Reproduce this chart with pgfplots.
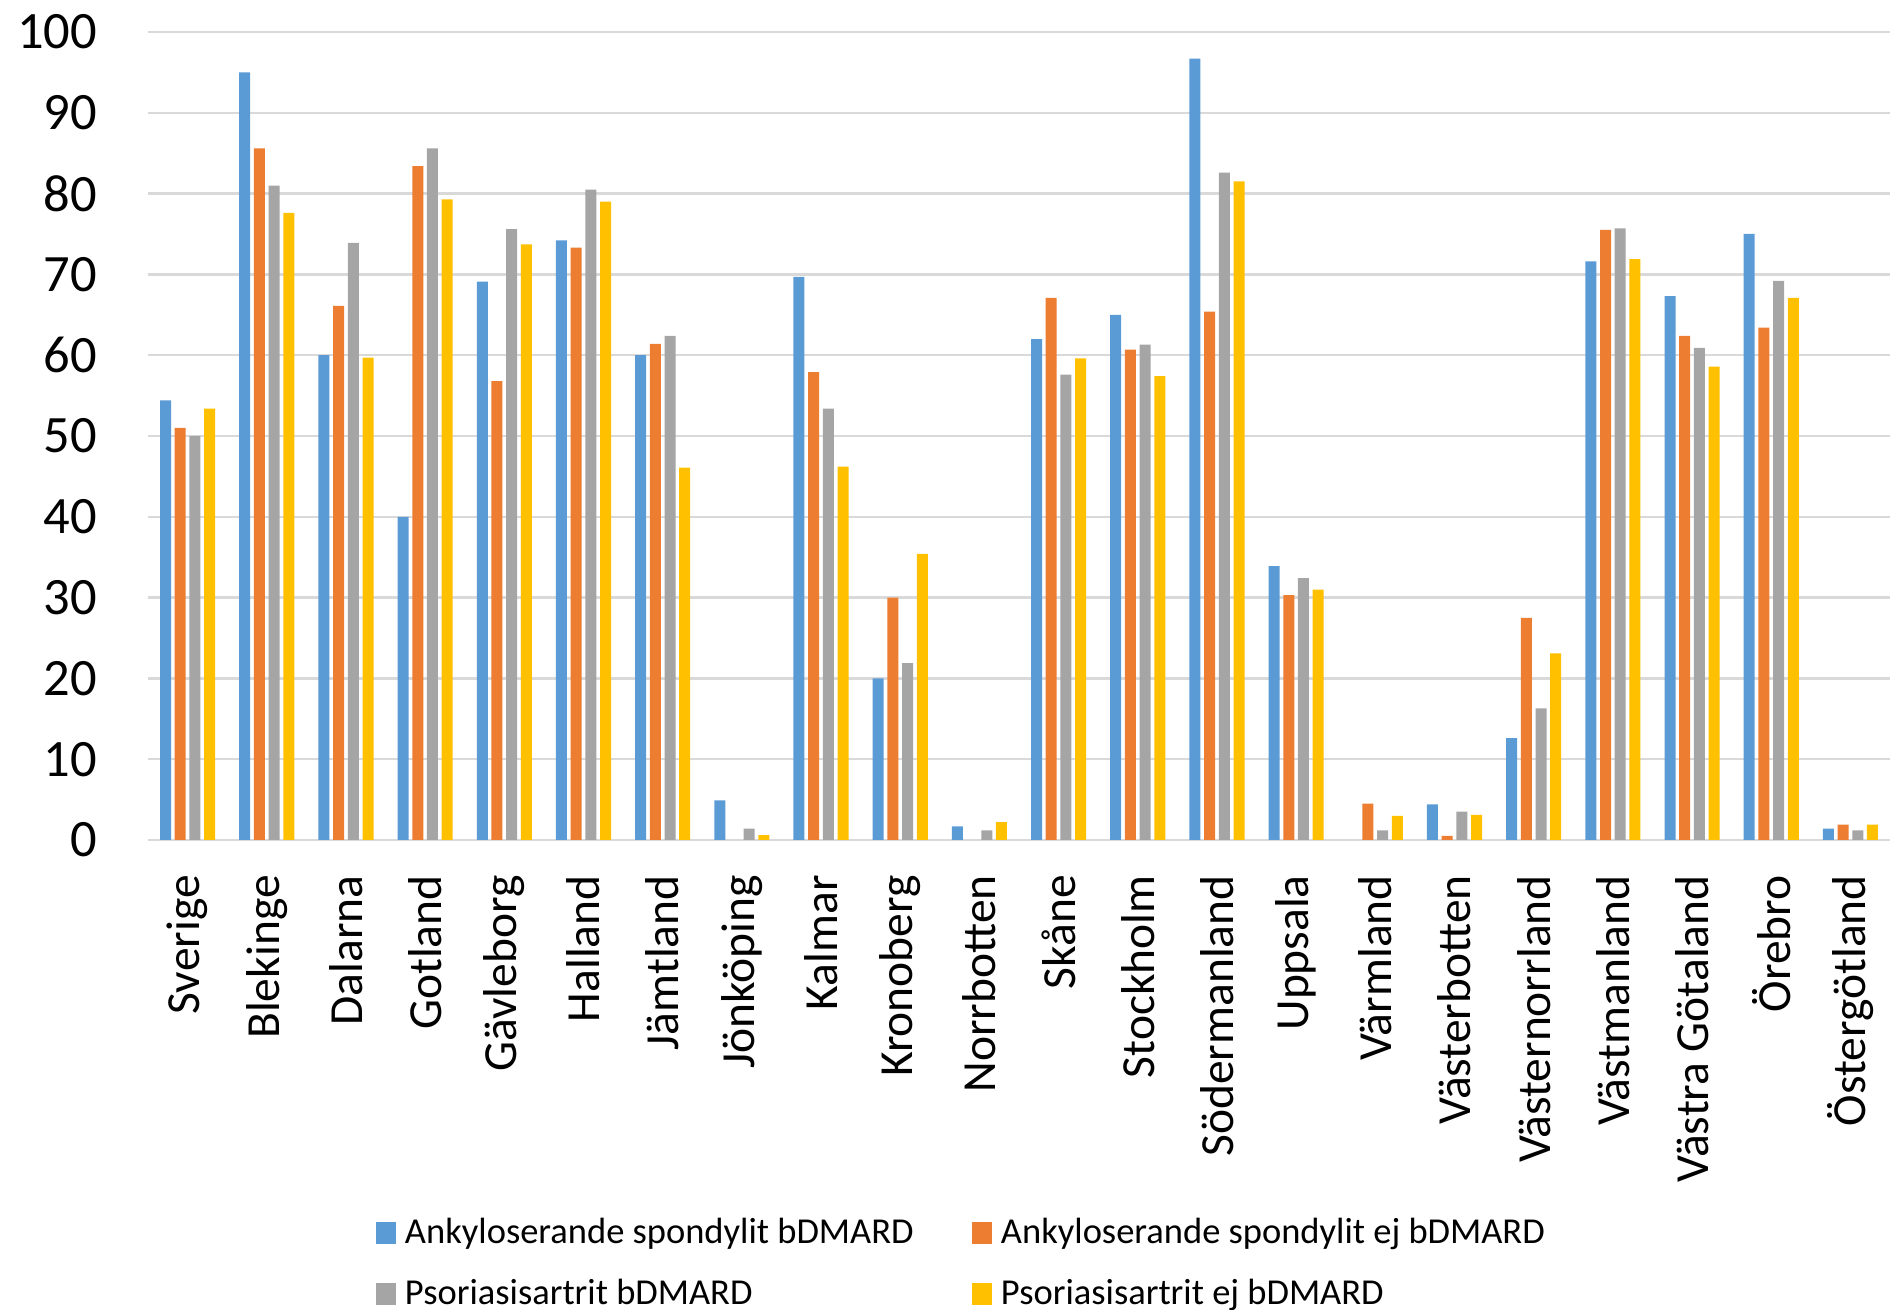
\documentclass[border=0pt]{standalone}
\usepackage{pgfplots}
\pgfplotsset{compat=1.18}
\usepackage{fontspec}
\setmainfont{Carlito}
\definecolor{cblue}{HTML}{5B9BD5}
\definecolor{corange}{HTML}{ED7D31}
\definecolor{cgray}{HTML}{A5A5A5}
\definecolor{cyellow}{HTML}{FFC000}
\definecolor{cgrid}{HTML}{D9D9D9}
\begin{document}
\begin{tikzpicture}
\begin{axis}[
  name=ax,
  scale only axis,
  width=348.4pt, height=161.6pt,
  xmin=-0.5, xmax=21.5, ymin=0, ymax=100,
  ybar=0.74pt, bar width=2.2pt,
  ytick={0,10,...,100},
  xtick={0,...,21},
  xticklabels={Sverige,Blekinge,Dalarna,Gotland,Gävleborg,Halland,Jämtland,Jönköping,Kalmar,Kronoberg,Norrbotten,Skåne,Stockholm,Södermanland,Uppsala,Värmland,Västerbotten,Västernorrland,Västmanland,Västra Götaland,Örebro,Östergötland},
  xticklabel style={rotate=90, anchor=east, inner sep=0pt, font=\fontsize{9.5}{11}\selectfont},
  xticklabel shift=2.6pt,
  yticklabel style={inner sep=0pt, font=\fontsize{10.5}{12}\selectfont},
  yticklabel shift=10pt,
  /pgf/number format/assume math mode=true,
  axis line style={draw=none},
  major tick style={draw=none},
  ymajorgrids, major grid style={draw=cgrid, line width=0.5pt},
  legend columns=2,
  legend cell align=left,
  legend style={draw=none, at={(axis description cs:0.1303,-0.4635)}, anchor=north west,
    inner sep=0pt, row sep=5.2pt, font=\fontsize{7.3}{9}\selectfont,
    nodes={inner sep=0pt, text height=5.5pt, text depth=1.5pt},
    /tikz/every odd column/.append style={column sep=1.8pt}},
  legend image code/.code={\fill[#1] (0pt,-2.2pt) rectangle (4pt,2.2pt);},
]
\addplot[fill=cblue, draw=none] coordinates {(0,54.4)(1,95.0)(2,60.0)(3,40.0)(4,69.1)(5,74.2)(6,60.0)(7,4.9)(8,69.7)(9,20.0)(10,1.7)(11,62.0)(12,65.0)(13,96.7)(14,33.9)(16,4.4)(17,12.6)(18,71.6)(19,67.3)(20,75.0)(21,1.4)};
\addplot[fill=corange, draw=none] coordinates {(0,51.0)(1,85.6)(2,66.1)(3,83.4)(4,56.8)(5,73.3)(6,61.4)(8,57.9)(9,30.0)(11,67.1)(12,60.7)(13,65.4)(14,30.3)(15,4.5)(16,0.5)(17,27.5)(18,75.5)(19,62.4)(20,63.4)(21,1.9)};
\addplot[fill=cgray, draw=none] coordinates {(0,50.0)(1,81.0)(2,73.9)(3,85.6)(4,75.6)(5,80.5)(6,62.4)(7,1.4)(8,53.4)(9,21.9)(10,1.2)(11,57.6)(12,61.3)(13,82.6)(14,32.4)(15,1.2)(16,3.5)(17,16.3)(18,75.7)(19,60.9)(20,69.2)(21,1.2)};
\addplot[fill=cyellow, draw=none] coordinates {(0,53.4)(1,77.6)(2,59.7)(3,79.3)(4,73.7)(5,79.0)(6,46.1)(7,0.6)(8,46.2)(9,35.4)(10,2.2)(11,59.6)(12,57.4)(13,81.5)(14,31.0)(15,3.0)(16,3.1)(17,23.1)(18,71.9)(19,58.6)(20,67.1)(21,1.9)};
\legend{\makebox[113.4pt][l]{Ankyloserande spondylit bDMARD}, Ankyloserande spondylit ej bDMARD, \makebox[113.4pt][l]{Psoriasisartrit bDMARD}, Psoriasisartrit ej bDMARD}
\end{axis}
\pgfresetboundingbox
\path ([shift={(-29.6pt,-94pt)}]ax.south west) rectangle ([shift={(0pt,168pt)}]ax.south east);
\end{tikzpicture}
\end{document}
